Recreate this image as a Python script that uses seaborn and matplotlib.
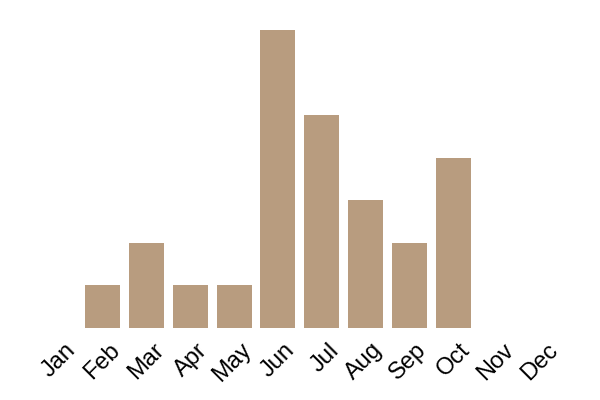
import matplotlib
matplotlib.use("Agg")
import matplotlib.pyplot as plt
import matplotlib.transforms as mtransforms
import seaborn as sns
import pandas as pd

months = ["Jan", "Feb", "Mar", "Apr", "May", "Jun",
          "Jul", "Aug", "Sep", "Oct", "Nov", "Dec"]
counts = [0, 1, 2, 1, 1, 7, 5, 3, 2, 4, 0, 0]

sns.set_style("white")
plt.rcParams['font.family'] = ['Liberation Sans', 'DejaVu Sans']

df = pd.DataFrame({"month": months, "count": counts})

fig = plt.figure(figsize=(6, 4), dpi=100)
ax = fig.add_axes([0.0617, 0.18, 0.876, 0.745])
sns.barplot(data=df, x="month", y="count", color="#b89c7f", saturation=1,
            width=0.8, linewidth=0, ax=ax)

ax.set_xlim(-0.5, 11.5)
ax.set_ylim(0, 7)
ax.set_xlabel("")
ax.set_ylabel("")
ax.set_yticks([])
ax.tick_params(axis="x", length=0, pad=8, colors="black")
sns.despine(ax=ax, left=True, bottom=True)

offset = mtransforms.ScaledTranslation(6 / 100, 0, fig.dpi_scale_trans)
for lab in ax.get_xticklabels():
    lab.set_rotation(45)
    lab.set_ha("right")
    lab.set_rotation_mode("anchor")
    lab.set_fontsize(17)
    lab.set_color("black")
    lab.set_transform(lab.get_transform() + offset)

fig.savefig("out.png", dpi=100)
